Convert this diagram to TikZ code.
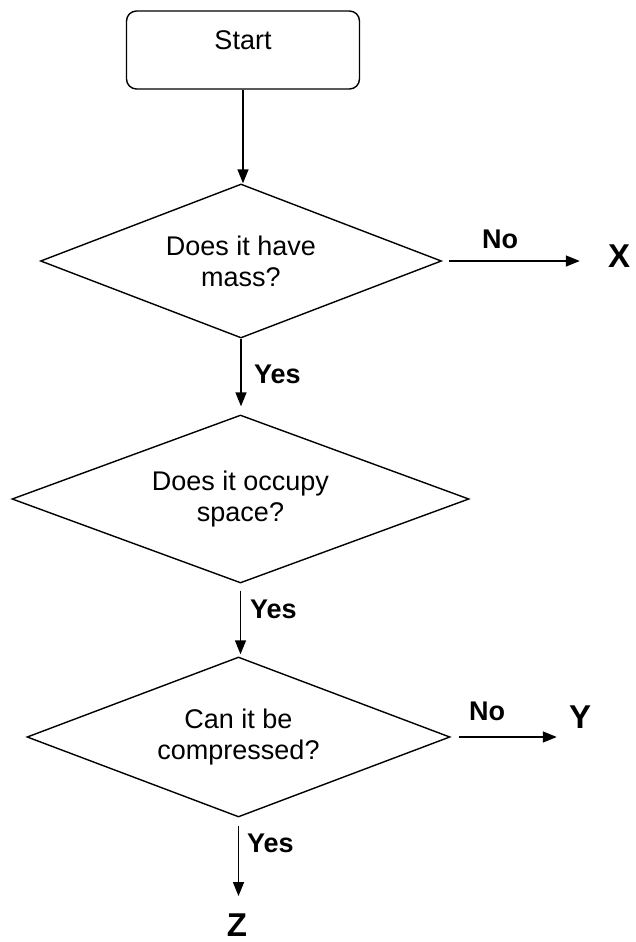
\documentclass[tikz,border=0pt]{standalone}
\usepackage{fontspec}
\setmainfont{Liberation Sans}
\usetikzlibrary{shapes.geometric,arrows.meta}
\tikzset{
  startbox/.style={draw, line width=1.4pt, rounded corners=10pt, minimum width=233pt,
    text height=39pt, text depth=39pt, inner sep=0pt, font=\fontsize{27}{31}\selectfont},
  decision/.style={draw, diamond, line width=1.4pt, inner sep=0pt, align=center,
    font=\fontsize{27}{31}\selectfont},
  arrow/.style={line width=1.4pt, -{Triangle[length=14pt,width=11pt]}},
  lbl/.style={font=\fontsize{27}{31}\selectfont\bfseries, inner sep=0pt},
  endlbl/.style={font=\fontsize{33}{36}\selectfont\bfseries, inner sep=0pt},
}
\begin{document}
\begin{tikzpicture}[x=1pt,y=-1pt]
  \useasboundingbox (0,0) rectangle (635,942);
  \node[startbox] (start) at (243,50) {Start};
  \node[decision, minimum width=401pt, minimum height=154pt, aspect=2.6] (d1) at (241,261) {Does it have\\mass?};
  \node[decision, minimum width=457pt, minimum height=168pt, aspect=2.7] (d2) at (240.5,499) {Does it occupy\\space?};
  \node[decision, minimum width=423pt, minimum height=160pt, aspect=2.6] (d3) at (238.5,737) {Can it be\\compressed?};
  \node[endlbl, anchor=base] (X) at (619,267) {X};
  \node[endlbl, anchor=base] (Y) at (580,728) {Y};
  \node[endlbl, anchor=base] (Z) at (237,936) {Z};
  \node[lbl, anchor=base] (no1) at (500,248) {No};
  \node[lbl, anchor=base] (no2) at (487,720) {No};
  \node[lbl, anchor=base west] (yes1) at (254,383) {Yes};
  \node[lbl, anchor=base west] (yes2) at (250,618) {Yes};
  \node[lbl, anchor=base west] (yes3) at (247,852) {Yes};
  \draw[arrow] (start.south) -- (start.south |- d1.north);
  \draw[arrow, shorten >=8pt] (d1.south) -- (d1.south |- d2.north);
  \draw[arrow, shorten <=7pt, shorten >=2pt] (d2.south) -- (d2.south |- d3.north);
  \draw[arrow, shorten <=8pt, shorten >=17pt] (d3.south) -- (d3.south |- Z.north);
  \draw[arrow, shorten <=7pt, shorten >=28pt] (d1.east) -- (d1.east -| X.west);
  \draw[arrow, shorten <=8pt, shorten >=12pt] (d3.east) -- (d3.east -| Y.west);
\end{tikzpicture}
\end{document}
